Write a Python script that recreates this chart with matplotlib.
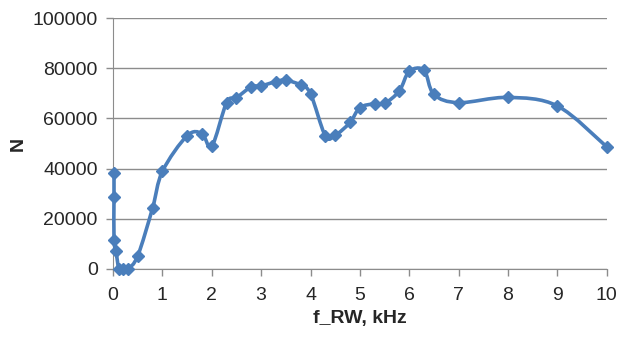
import matplotlib.pyplot as plt
import numpy as np
from matplotlib.path import Path
from matplotlib.patches import PathPatch

f_rw = [0.02, 0.02, 0.02, 0.06, 0.12, 0.2, 0.3, 0.5, 0.8, 1.0, 1.5, 1.8, 2.0,
        2.3, 2.5, 2.8, 3.0, 3.3, 3.5, 3.8, 4.0, 4.3, 4.5, 4.8, 5.0, 5.3,
        5.5, 5.8, 6.0, 6.3, 6.5, 7.0, 8.0, 9.0, 10.0]
n_val = [38300, 28800, 11700, 7100, 0, 0, 0, 5200, 24200, 38900, 53100, 54000, 48900,
         66300, 68300, 72600, 73000, 74700, 75300, 73300, 69900, 53100, 53300, 58400, 64300, 65900,
         66000, 71000, 78800, 79200, 69600, 66300, 68400, 65000, 48700]

x_ticks = np.arange(0, 11, 1)
y_ticks = np.arange(0, 100001, 20000)

blue = '#4A7EBB'
plt.rcParams['font.family'] = ['Liberation Sans', 'DejaVu Sans']

fig = plt.figure(figsize=(6.21, 3.42), dpi=100)
ax = fig.add_axes([0.182, 0.2135, 0.795, 0.7335])

# smoothed line (Excel style bezier through the points)
x = np.array(f_rw, dtype=float)
y = np.array(n_val, dtype=float)
verts = [(x[0], y[0])]
codes = [Path.MOVETO]
t = 1 / 6
for i in range(len(x) - 1):
    x0, y0 = (x[i - 1], y[i - 1]) if i > 0 else (x[i], y[i])
    x3, y3 = (x[i + 2], y[i + 2]) if i + 2 < len(x) else (x[i + 1], y[i + 1])
    c1 = (x[i] + (x[i + 1] - x0) * t, y[i] + (y[i + 1] - y0) * t)
    c2 = (x[i + 1] - (x3 - x[i]) * t, y[i + 1] - (y3 - y[i]) * t)
    verts += [c1, c2, (x[i + 1], y[i + 1])]
    codes += [Path.CURVE4] * 3
ax.add_patch(PathPatch(Path(verts, codes), facecolor='none', edgecolor=blue, lw=2.6,
                       zorder=3, clip_on=False))
ax.plot(f_rw, n_val, linestyle='none', marker='D', markersize=6.5, color=blue,
        zorder=4, clip_on=False)

ax.set_xlim(0, 10)
ax.set_ylim(0, 100000)
ax.set_xticks(x_ticks)
ax.set_yticks(y_ticks)
ax.grid(axis='y', color='#8c8c8c', lw=1)
ax.set_axisbelow(True)
for s in ['top', 'right']:
    ax.spines[s].set_visible(False)
for s in ['left', 'bottom']:
    ax.spines[s].set_color('#8c8c8c')
ax.tick_params(colors='#8c8c8c', labelcolor='#262626', labelsize=14, length=5, width=1)
ax.tick_params(axis='x', pad=8)
ax.tick_params(axis='y', pad=6)
ax.set_xlabel('f_RW, kHz', fontsize=14, fontweight='bold', color='#262626', labelpad=4)
ax.set_ylabel('N', fontsize=14, fontweight='bold', color='#262626', labelpad=4)
ax.set_xticklabels([str(v) for v in x_ticks])
ax.set_yticklabels([str(v) for v in y_ticks])

fig.savefig('out.png', dpi=100)
